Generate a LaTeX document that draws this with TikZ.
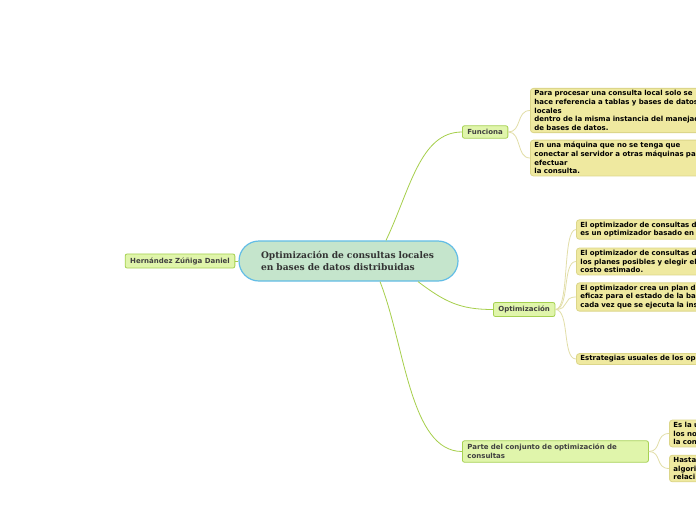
\documentclass[tikz,border=0pt]{standalone}
\usepackage{fontspec}
\usepackage{tikz}
\newfontfamily\mapfont{DejaVu Sans}
\newfontfamily\titlefont{DejaVu Serif}
\definecolor{ctrfill}{HTML}{C5E5CC}
\definecolor{ctrline}{HTML}{62BDE6}
\definecolor{topfill}{HTML}{E0F5AB}
\definecolor{topline}{HTML}{A6D152}
\definecolor{leaffill}{HTML}{EFE9A0}
\definecolor{leafline}{HTML}{DCD68A}
\definecolor{leafcurve}{HTML}{E2DEA8}
\definecolor{topcurve}{HTML}{A6CF4B}

\begin{document}
\begin{tikzpicture}[x=1pt,y=-1pt,
    every node/.style={font=\mapfont\bfseries\fontsize{7}{8.7}\selectfont},
    topic/.style={draw=topline, fill=topfill, line width=0.8pt, rounded corners=2pt,
      text=black!75, align=left, inner xsep=5pt, inner ysep=3.5pt, anchor=west},
    leaf/.style={draw=leafline, fill=leaffill, line width=0.8pt, rounded corners=3pt,
      align=left, text width=200pt, inner xsep=4pt, inner ysep=2pt, anchor=west},
    wire/.style={topcurve, line width=0.8pt},
    leafwire/.style={leafcurve, line width=0.8pt}]
  \useasboundingbox (0,0) rectangle (696,520);
  \fill[white] (0,0) rectangle (696,520);

  % central topic
  \node[draw=ctrline, fill=ctrfill, line width=1.2pt, rounded corners=20pt,
    minimum height=40pt, text width=175pt, inner xsep=22pt, align=left,
    text=black!80, font=\titlefont\bfseries\fontsize{9.1}{12}\selectfont] (ctr) at (348.5,261)
    {Optimización de consultas locales\\en bases de datos distribuidas};
  \node[topic, anchor=center] (hzd) at (180,261) {Hernández Zúñiga Daniel};
  \draw[wire] (hzd) -- (ctr);

  % main branches
  \node[topic] (fun) at (462,132) {Funciona};
  \node[topic] (opt) at (493,309.5) {Optimización};
  \node[topic, text width=176pt] (pcj) at (462,451.5) {Parte del conjunto de optimización de\\consultas};

  \draw[wire] ([xshift=37.5pt]ctr.north) .. controls (410,190) and (420,132) .. (fun.west);
  \draw[wire] ([xshift=69.5pt]ctr.south) .. controls (445,302) and (460,309.5) .. (opt.west);
  \draw[wire] ([xshift=31.5pt]ctr.south) .. controls (405,345) and (410,451.5) .. (pcj.west);

  % Funciona
  \node[leaf] (fa) at (530,110.5) {Para procesar una consulta local solo se\\hace referencia a tablas y bases de datos\\locales\\dentro de la misma instancia del manejad\\de bases de datos.};
  \node[leaf] (fb) at (530,158) {En una máquina que no se tenga que\\conectar al servidor a otras máquinas par\\efectuar\\la consulta.};

  % Optimizacion
  \node[leaf] (oa) at (576,229.5) {El optimizador de consultas d\\es un optimizador basado en};
  \node[leaf] (ob) at (576,261.5) {El optimizador de consultas d\\los planes posibles y elegir el\\costo estimado.};
  \node[leaf] (oc) at (576,297) {El optimizador crea un plan d\\eficaz para el estado de la ba\\cada vez que se ejecuta la ins};
  \node[leaf] (od) at (576,359) {Estrategias usuales de los op};

  % Parte del conjunto
  \node[leaf] (pa) at (669,433.5) {Es la u\\los no\\la con};
  \node[leaf] (pb) at (669,468.5) {Hasta\\algori\\relaci};

  \foreach \kid in {fa,fb}
    \draw[leafwire] (fun.east) .. controls (522,132) and (516,0 |- \kid.west) .. (\kid.west);
  \foreach \kid in {oa,ob,oc,od}
    \draw[leafwire] (opt.east) .. controls (570,309.5) and (562,0 |- \kid.west) .. (\kid.west);
  \foreach \kid in {pa,pb}
    \draw[leafwire] (pcj.east) .. controls (662,451.5) and (655,0 |- \kid.west) .. (\kid.west);
\end{tikzpicture}
\end{document}
